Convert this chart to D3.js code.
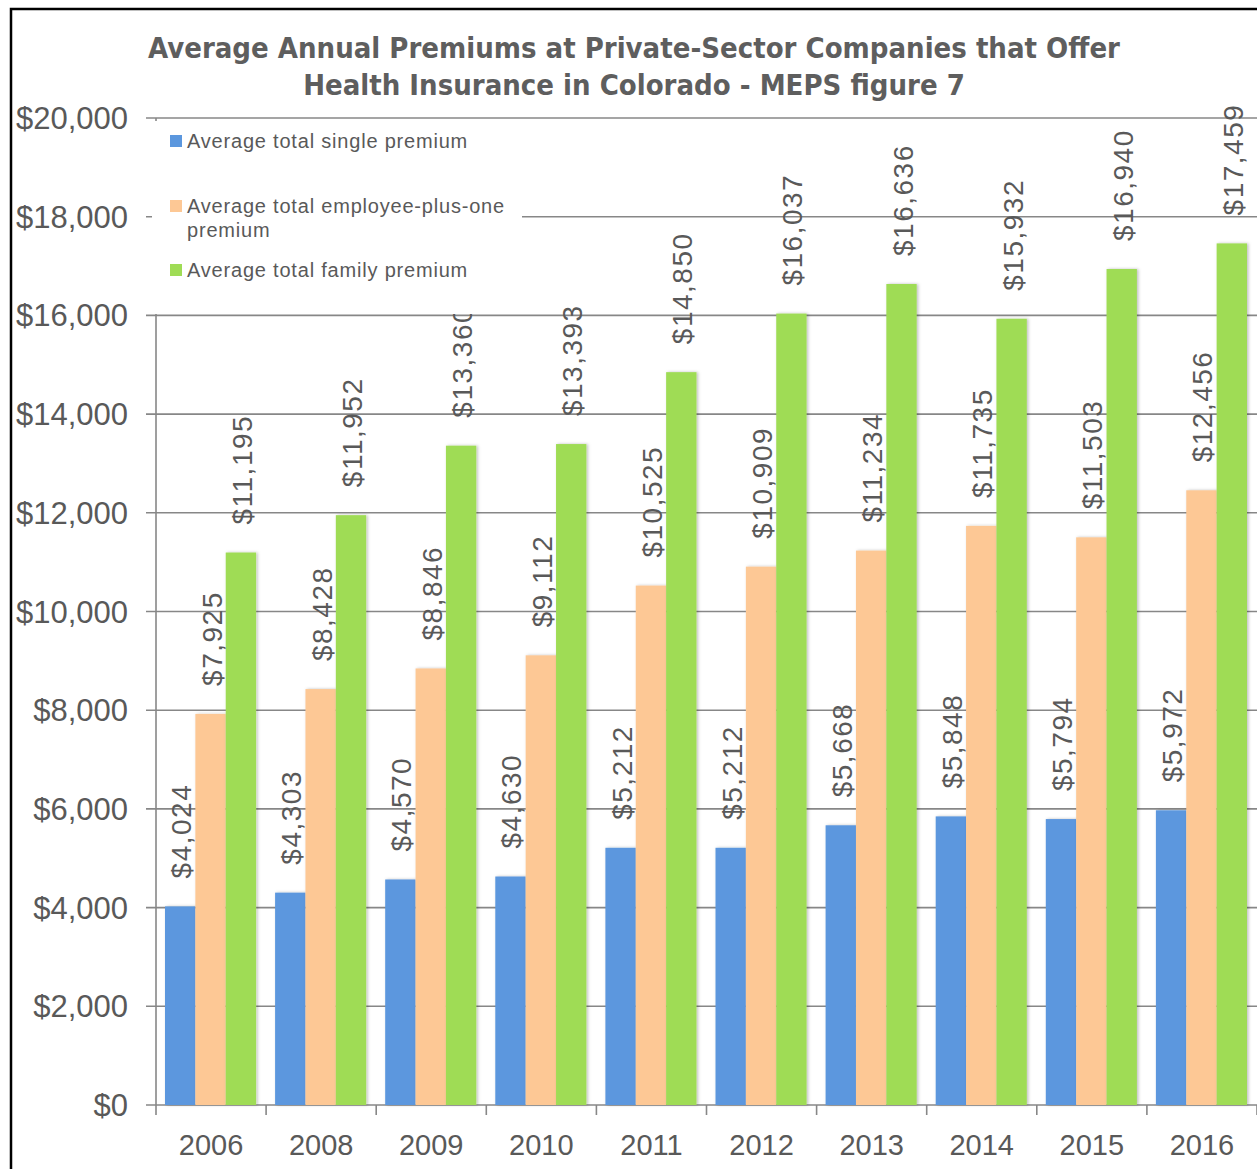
<!DOCTYPE html>
<html>
<head>
<meta charset="utf-8">
<script src="https://cdn.jsdelivr.net/npm/d3@7"></script>
<style>
  body { margin: 0; background: #fff; }
  svg { display: block; }
</style>
</head>
<body>
<div id="chart"></div>
<script>
const years = ['2006', '2008', '2009', '2010', '2011', '2012', '2013', '2014', '2015', '2016']
const single = [4024, 4303, 4570, 4630, 5212, 5212, 5668, 5848, 5794, 5972]
const plusOne = [7925, 8428, 8846, 9112, 10525, 10909, 11234, 11735, 11503, 12456]
const family = [11195, 11952, 13360, 13393, 14850, 16037, 16636, 15932, 16940, 17459]
const seriesNames = [
  ['Average total single premium'],
  ['Average total employee-plus-one', 'premium'],
  ['Average total family premium']
]
const yTicks = [0, 2000, 4000, 6000, 8000, 10000, 12000, 14000, 16000, 18000, 20000]
const titleLines = [
  'Average Annual Premiums at Private-Sector Companies that Offer',
  'Health Insurance in Colorado - MEPS figure 7'
]

const colors = ['#5b97de', '#fdc895', '#9fdc55']
const textColor = '#595959'
const gridColor = '#878787'
const W = 1257
const H = 1169

const svg = d3.select('#chart').append('svg')
  .attr('width', W)
  .attr('height', H)

let defs = svg.append('defs')
let shadow = defs.append('filter').attr('id', 'shadow')
  .attr('x', '-20%').attr('y', '-5%').attr('width', '150%').attr('height', '110%')
shadow.append('feDropShadow')
  .attr('dx', 1.5).attr('dy', 0)
  .attr('stdDeviation', 1.5)
  .attr('flood-color', '#000')
  .attr('flood-opacity', 0.25)

// outer frame
svg.append('rect')
  .attr('x', 11)
  .attr('y', 9)
  .attr('width', W + 50)
  .attr('height', H + 50)
  .attr('fill', 'none')
  .attr('stroke', '#000')
  .attr('stroke-width', 2.5)

let plot = {left: 156, right: 1257, top: 118, bottom: 1105}

let x = d3.scaleBand().domain(years).range([plot.left, plot.right])
let y = d3.scaleLinear().domain([0, 20000]).range([plot.bottom, plot.top])
let xs = d3.scaleBand().domain([0, 1, 2]).range([9, x.bandwidth() - 10])

// gridlines and y labels
let gy = svg.append('g')
gy.selectAll('line.grid').data(yTicks).enter().append('line')
  .attr('class', 'grid')
  .attr('x1', plot.left - 10)
  .attr('x2', plot.right)
  .attr('y1', d => y(d))
  .attr('y2', d => y(d))
  .attr('stroke', gridColor)
  .attr('stroke-width', 1.6)
gy.selectAll('text').data(yTicks).enter().append('text')
  .text(d => '$' + d3.format(',')(d))
  .attr('x', 128)
  .attr('y', d => y(d) + 11)
  .attr('text-anchor', 'end')
  .style('font-family', 'Liberation Sans, Arial, sans-serif')
  .style('font-size', '31px')
  .attr('fill', textColor)

// y axis line and x axis ticks
svg.append('line')
  .attr('x1', plot.left).attr('x2', plot.left)
  .attr('y1', plot.top).attr('y2', plot.bottom + 10)
  .attr('stroke', gridColor).attr('stroke-width', 1.6)
svg.selectAll('line.xtick').data(years).enter().append('line')
  .attr('class', 'xtick')
  .attr('x1', d => x(d) + x.bandwidth())
  .attr('x2', d => x(d) + x.bandwidth())
  .attr('y1', plot.bottom)
  .attr('y2', plot.bottom + 10)
  .attr('stroke', gridColor).attr('stroke-width', 1.6)
svg.selectAll('text.year').data(years).enter().append('text')
  .attr('class', 'year')
  .text(d => d)
  .attr('x', d => x(d) + x.bandwidth() / 2)
  .attr('y', 1155)
  .attr('text-anchor', 'middle')
  .style('font-family', 'Liberation Sans, Arial, sans-serif')
  .style('font-size', '29px')
  .attr('fill', textColor)

// bars
let series = [single, plusOne, family]
let cells = []
years.forEach(function (yr, i) {
  series.forEach(function (s, k) {
    cells.push({year: yr, k: k, v: s[i]})
  })
})

svg.append('g').selectAll('rect').data(cells).enter().append('rect')
  .attr('x', d => x(d.year) + xs(d.k))
  .attr('y', d => y(d.v))
  .attr('width', xs.bandwidth())
  .attr('height', d => plot.bottom - y(d.v))
  .attr('fill', d => colors[d.k])
  .attr('filter', 'url(#shadow)')

// value labels, rotated
svg.append('g').selectAll('text').data(cells).enter().append('text')
  .text(d => '$' + d3.format(',')(d.v))
  .attr('transform', d => 'translate(' + (x(d.year) + xs(d.k) + xs.bandwidth() / 2 + 11) + ',' + (y(d.v) - 28) + ') rotate(-90)')
  .style('font-family', 'Liberation Sans, Arial, sans-serif')
  .style('font-size', '28px')
  .style('letter-spacing', '1.5px')
  .attr('fill', textColor)

// legend
let lg = svg.append('g')
lg.append('rect')
  .attr('x', 152)
  .attr('y', 121)
  .attr('width', 370)
  .attr('height', 193)
  .attr('fill', '#fff')
let legendY = [148, 213, 277]
seriesNames.forEach(function (lines, k) {
  lg.append('rect')
    .attr('x', 170)
    .attr('y', legendY[k] - 13)
    .attr('width', 12)
    .attr('height', 12)
    .attr('fill', colors[k])
  lines.forEach(function (t, j) {
    lg.append('text')
      .text(t)
      .attr('x', 187)
      .attr('y', legendY[k] + j * 24)
      .style('font-family', 'Liberation Sans, Arial, sans-serif')
      .style('font-size', '20px')
      .style('letter-spacing', '0.8px')
      .attr('fill', textColor)
  })
})

// title
let titleY = [58, 95]
titleLines.forEach(function (t, i) {
  svg.append('text')
    .text(t)
    .attr('x', 634)
    .attr('y', titleY[i])
    .attr('text-anchor', 'middle')
    .style('font-family', 'DejaVu Sans Condensed, DejaVu Sans, sans-serif')
    .style('font-weight', 'bold')
    .style('font-size', '29px')
    .attr('fill', '#5e5e5e')
})
</script>
</body>
</html>
